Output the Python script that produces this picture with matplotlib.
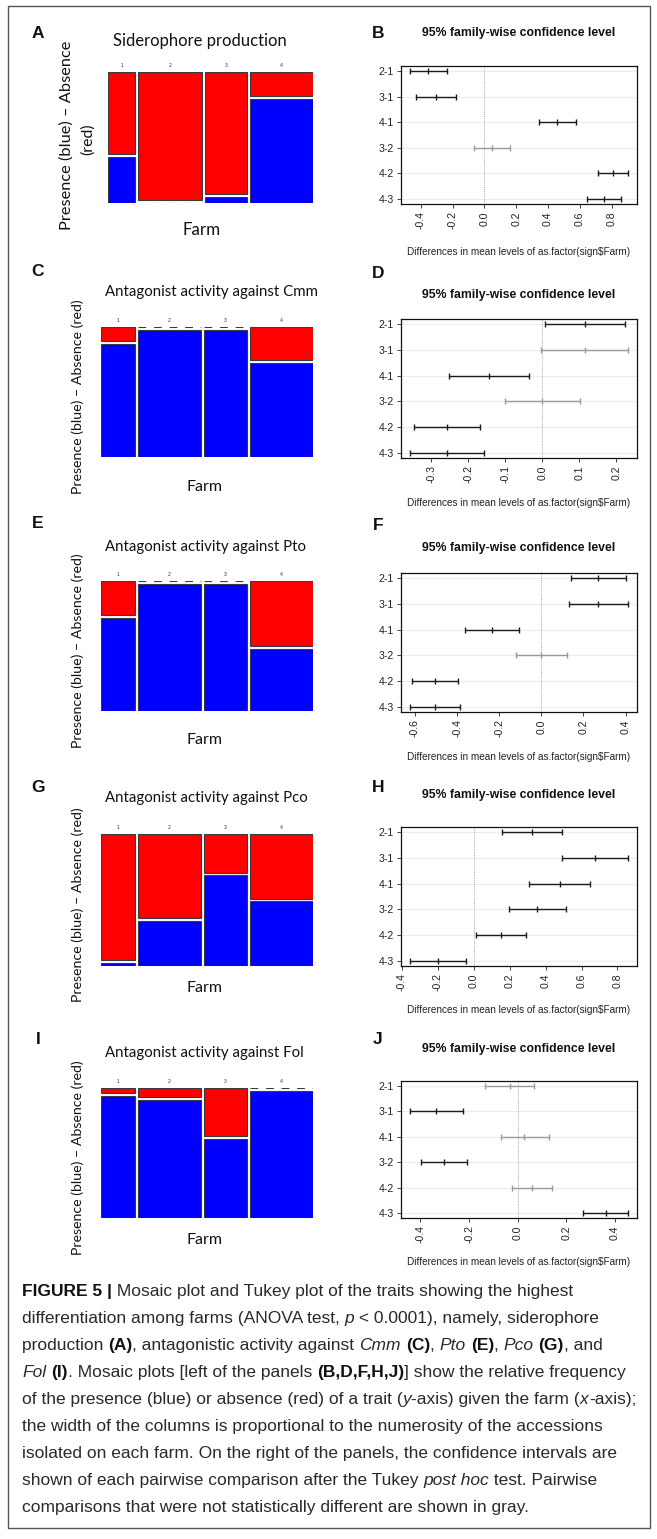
import matplotlib
matplotlib.use("Agg")
import matplotlib.pyplot as plt
from matplotlib.patches import Rectangle

plt.rcParams['axes.unicode_minus'] = False

# ---------------- data ----------------
farms = ["1", "2", "3", "4"]
farm_sizes_A = [13, 30, 20, 30]
farm_sizes = [16, 30, 20, 30]

presence_A = [0.36, 0.0, 0.05, 0.81]   # Siderophore production
presence_C = [0.89, 1.0, 1.0, 0.74]    # Cmm
presence_E = [0.73, 1.0, 1.0, 0.49]    # Pto
presence_G = [0.025, 0.35, 0.70, 0.50] # Pco
presence_I = [0.96, 0.93, 0.62, 1.0]   # Fol

comparisons = ["2-1", "3-1", "4-1", "3-2", "4-2", "4-3"]

B_lwr = [-0.469, -0.432, 0.341, -0.063, 0.712, 0.648]
B_dif = [-0.352, -0.305, 0.458, 0.049, 0.810, 0.754]
B_upr = [-0.234, -0.177, 0.575, 0.160, 0.905, 0.860]

D_lwr = [0.007, -0.003, -0.251, -0.102, -0.347, -0.358]
D_dif = [0.115, 0.115, -0.143, 0.000, -0.258, -0.258]
D_upr = [0.222, 0.232, -0.035, 0.102, -0.169, -0.157]

F_lwr = [0.141, 0.130, -0.362, -0.122, -0.613, -0.625]
F_dif = [0.270, 0.270, -0.233, 0.000, -0.505, -0.505]
F_upr = [0.400, 0.413, -0.106, 0.122, -0.398, -0.384]

H_lwr = [0.159, 0.491, 0.310, 0.196, 0.013, -0.356]
H_dif = [0.325, 0.677, 0.478, 0.353, 0.153, -0.200]
H_upr = [0.494, 0.860, 0.646, 0.513, 0.293, -0.043]

J_lwr = [-0.134, -0.444, -0.070, -0.399, -0.023, 0.269]
J_dif = [-0.033, -0.335, 0.026, -0.305, 0.059, 0.363]
J_upr = [0.068, -0.226, 0.127, -0.210, 0.142, 0.455]

B_ticks = [-0.4, -0.2, 0.0, 0.2, 0.4, 0.6, 0.8]
D_ticks = [-0.3, -0.2, -0.1, 0.0, 0.1, 0.2]
F_ticks = [-0.6, -0.4, -0.2, 0.0, 0.2, 0.4]
H_ticks = [-0.4, -0.2, 0.0, 0.2, 0.4, 0.6, 0.8]
J_ticks = [-0.4, -0.2, 0.0, 0.2, 0.4]

mosaic_titles = ["Siderophore production", "Antagonist activity against Cmm",
                 "Antagonist activity against Pto", "Antagonist activity against Pco",
                 "Antagonist activity against Fol"]

# ---------------- figure ----------------
W, H = 657, 1539
fig = plt.figure(figsize=(W / 100, H / 100), dpi=100)
fig.patch.set_facecolor("white")
renderer = fig.canvas.get_renderer()

LEFTFONT = ["Lato", "DejaVu Sans"]
ARIAL = ["Liberation Sans", "DejaVu Sans"]


def fx(x):
    return x / W


def fy(y):
    return 1 - y / H


def px_axes(x0, y0, x1, y1):
    return fig.add_axes([fx(x0), fy(y1), (x1 - x0) / W, (y1 - y0) / H])


def fit_text(x, y, s, width, rotation=0, **kw):
    t = fig.text(fx(x), fy(y), s, fontsize=10, **kw)
    bb = t.get_window_extent(renderer)
    size = 10 * width / bb.width
    t.set_fontsize(size)
    t.set_rotation(rotation)
    return t, size


# outer frame
fig.add_artist(Rectangle((fx(8), fy(1528)), 642 / W, 1522 / H, transform=fig.transFigure,
                         fill=False, ec="#555555", lw=1.0))

RED = "#FF0000"
BLUE = "#0000FF"
EDGE = "#3a3a3a"


def mosaic(ax, sizes, presence):
    gx, gy = 0.0145, 0.02
    avail = 1 - gx * (len(sizes) - 1)
    tot = sum(sizes)
    x = 0
    for lab, n, p in zip(farms, sizes, presence):
        w = avail * n / tot
        usable = 1 - gy
        if p <= 0:
            ax.add_patch(Rectangle((x, gy), w, usable, fc=RED, ec=EDGE, lw=0.8))
            ax.plot([x, x + w], [0, 0], color=EDGE, lw=0.8, ls=(0, (7, 7)))
        elif p >= 1:
            ax.add_patch(Rectangle((x, 0), w, usable, fc=BLUE, ec=EDGE, lw=0.8))
            ax.plot([x, x + w], [1, 1], color=EDGE, lw=0.8, ls=(0, (7, 7)))
        else:
            hb = usable * p
            ax.add_patch(Rectangle((x, 0), w, hb, fc=BLUE, ec=EDGE, lw=0.8))
            ax.add_patch(Rectangle((x, hb + gy), w, usable * (1 - p), fc=RED, ec=EDGE, lw=0.8))
        ax.text(x + w / 2, 1.03, lab, ha="center", va="bottom", fontsize=3.6,
                color="#333333", family=ARIAL)
        x += w + gx
    ax.set_xlim(0, 1)
    ax.set_ylim(0, 1)
    ax.axis("off")


def tukey(ax, lwr, dif, upr, ticks):
    n = len(comparisons)
    ys = list(range(n, 0, -1))
    for y in ys:
        ax.axhline(y, color="#ececec", lw=0.8, zorder=0)
    ax.axvline(0, color="#8a8a8a", lw=0.6, ls=(0, (1, 1.5)), zorder=1)
    for y, lo, m, hi in zip(ys, lwr, dif, upr):
        col = "#9a9a9a" if (lo < 0 < hi) else "#1a1a1a"
        ax.errorbar([m], [y], xerr=[[m - lo], [hi - m]], fmt="none", ecolor=col,
                    elinewidth=1.0, capsize=2.5, capthick=1.0, zorder=3)
        ax.plot([m], [y], marker="|", ms=5.0, mew=1.0, color=col, zorder=3)
    lo_all, hi_all = min(lwr), max(upr)
    pad = 0.04 * (hi_all - lo_all)
    ax.set_xlim(lo_all - pad, hi_all + pad)
    ax.set_ylim(0.8, n + 0.2)
    ax.set_yticks(ys)
    ax.set_yticklabels(comparisons, family=ARIAL, fontsize=7.6, color="#222222")
    ax.set_xticks(ticks)
    ax.set_xticklabels(["%.1f" % t for t in ticks], rotation=90, family=ARIAL,
                       fontsize=7.6, color="#222222")
    ax.tick_params(direction="out", length=2.8, width=0.6, pad=2.5, colors="#222222")
    for sp in ax.spines.values():
        sp.set_linewidth(0.9)
        sp.set_color("#111111")


# ---------------- left mosaic panels ----------------
mosaic_boxes = [(108, 72, 313, 203), (101, 327, 313, 457), (101, 581, 313, 711),
                (101, 834, 313, 966), (101, 1088, 313, 1218)]
presences = [presence_A, presence_C, presence_E, presence_G, presence_I]
sizes_list = [farm_sizes_A, farm_sizes, farm_sizes, farm_sizes, farm_sizes]
for box, pres, sz in zip(mosaic_boxes, presences, sizes_list):
    mosaic(px_axes(*box), sz, pres)

# Panel A texts
fit_text(200, 41, mosaic_titles[0], 175, ha="center", va="center", family=LEFTFONT, color="#111111")
fit_text(67, 135, "Presence (blue) \u2013 Absence", 190, rotation=90, ha="center", va="center",
         family=LEFTFONT, color="#111111")
fit_text(88, 139, "(red)", 32, rotation=90, ha="center", va="center", family=LEFTFONT,
         color="#111111")
fit_text(202, 230, "Farm", 38, ha="center", va="center", family=LEFTFONT, color="#111111")

title_y = [292, 547, 798, 1053]
ylab_y = [397, 651, 905, 1158]
farm_y = [487, 740, 988, 1240]
_, tsize = fit_text(105, title_y[0], mosaic_titles[1], 213, ha="left", va="center",
                    family=LEFTFONT, color="#111111")
_, ysize = fit_text(78, ylab_y[0], "Presence (blue) \u2013 Absence (red)", 195, rotation=90,
                    ha="center", va="center", family=LEFTFONT, color="#111111")
_, fsize = fit_text(204, farm_y[0], "Farm", 36, ha="center", va="center", family=LEFTFONT,
                    color="#111111")
for k in range(1, 4):
    fig.text(fx(105), fy(title_y[k]), mosaic_titles[k + 1], fontsize=tsize, ha="left",
             va="center", family=LEFTFONT, color="#111111")
    fig.text(fx(78), fy(ylab_y[k]), "Presence (blue) \u2013 Absence (red)", fontsize=ysize,
             rotation=90, ha="center", va="center", family=LEFTFONT, color="#111111")
    fig.text(fx(204), fy(farm_y[k]), "Farm", fontsize=fsize, ha="center", va="center",
             family=LEFTFONT, color="#111111")

# ---------------- right Tukey panels ----------------
tukey_boxes = [(401, 66, 637, 204), (401, 319, 637, 458), (401, 573, 637, 712),
               (401, 827, 637, 966), (401, 1081, 637, 1218)]
tukey_data = [(B_lwr, B_dif, B_upr, B_ticks), (D_lwr, D_dif, D_upr, D_ticks),
              (F_lwr, F_dif, F_upr, F_ticks), (H_lwr, H_dif, H_upr, H_ticks),
              (J_lwr, J_dif, J_upr, J_ticks)]
for box, dat in zip(tukey_boxes, tukey_data):
    tukey(px_axes(*box), *dat)

rt_title_y = [33, 295, 548, 795, 1049]
rt_xlab_y = [252, 503, 757, 1010, 1262]
_, rts = fit_text(519, rt_title_y[0], "95% family-wise confidence level", 193, ha="center",
                  va="center", family=ARIAL, fontweight="bold", color="#111111")
_, rxs = fit_text(519, rt_xlab_y[0], "Differences in mean levels of as.factor(sign\\$Farm)", 225,
                  ha="center", va="center", family=ARIAL, color="#222222")
for k in range(1, 5):
    fig.text(fx(519), fy(rt_title_y[k]), "95% family-wise confidence level", fontsize=rts,
             ha="center", va="center", family=ARIAL, fontweight="bold", color="#111111")
    fig.text(fx(519), fy(rt_xlab_y[k]), "Differences in mean levels of as.factor(sign\\$Farm)",
             fontsize=rxs, ha="center", va="center", family=ARIAL, color="#222222")

# panel letters
letters_left = [("A", 33), ("C", 272), ("E", 524), ("G", 787), ("I", 1040)]
letters_right = [("B", 33), ("D", 274), ("F", 526), ("H", 787), ("J", 1040)]
for (l, y) in letters_left:
    fig.text(fx(38), fy(y), l, fontsize=12.5, fontweight="bold", family=ARIAL, ha="center",
             va="center", color="#111111")
for (l, y) in letters_right:
    fig.text(fx(378), fy(y), l, fontsize=12.5, fontweight="bold", family=ARIAL, ha="center",
             va="center", color="#111111")

# ---------------- caption ----------------
CAP = ["Liberation Sans", "DejaVu Sans"]
caption = [
    [("FIGURE 5 |", "b"), (" Mosaic plot and Tukey plot of the traits showing the highest", "n")],
    [("differentiation among farms (ANOVA test, ", "n"), ("p", "i"), (" < 0.0001), namely, siderophore", "n")],
    [("production ", "n"), ("(A)", "b"), (", antagonistic activity against ", "n"), ("Cmm", "i"), (" ", "n"),
     ("(C)", "b"), (", ", "n"), ("Pto", "i"), (" ", "n"), ("(E)", "b"), (", ", "n"), ("Pco", "i"), (" ", "n"),
     ("(G)", "b"), (", and", "n")],
    [("Fol", "i"), (" ", "n"), ("(I)", "b"), (". Mosaic plots [left of the panels ", "n"), ("(B,D,F,H,J)", "b"),
     ("] show the relative frequency", "n")],
    [("of the presence (blue) or absence (red) of a trait (", "n"), ("y", "i"), ("-axis) given the farm (", "n"),
     ("x", "i"), ("-axis);", "n")],
    [("the width of the columns is proportional to the numerosity of the accessions", "n")],
    [("isolated on each farm. On the right of the panels, the confidence intervals are", "n")],
    [("shown of each pairwise comparison after the Tukey ", "n"), ("post hoc", "i"), (" test. Pairwise", "n")],
    [("comparisons that were not statistically different are shown in gray.", "n")],
]


def seg_kw(st):
    kw = {"color": "#2a2a2a"}
    if st == "b":
        kw["fontweight"] = "bold"
        kw["color"] = "#111111"
    if st == "i":
        kw["fontstyle"] = "italic"
    return kw


def line_width(segs, size):
    tot = 0
    for s, st in segs:
        t = fig.text(0, 0, s, fontsize=size, family=CAP, **seg_kw(st))
        tot += t.get_window_extent(renderer).width
        t.remove()
    return tot


cap_size = 10 * 617 / line_width(caption[4], 10)


def draw_line(x, y, segs, size):
    for s, st in segs:
        t = fig.text(fx(x), fy(y), s, fontsize=size, family=CAP, ha="left", va="baseline",
                     **seg_kw(st))
        x += t.get_window_extent(renderer).width


for k, segs in enumerate(caption):
    draw_line(22, 1296 + 27 * k, segs, cap_size)

fig.savefig("out.png", dpi=100, facecolor="white")
